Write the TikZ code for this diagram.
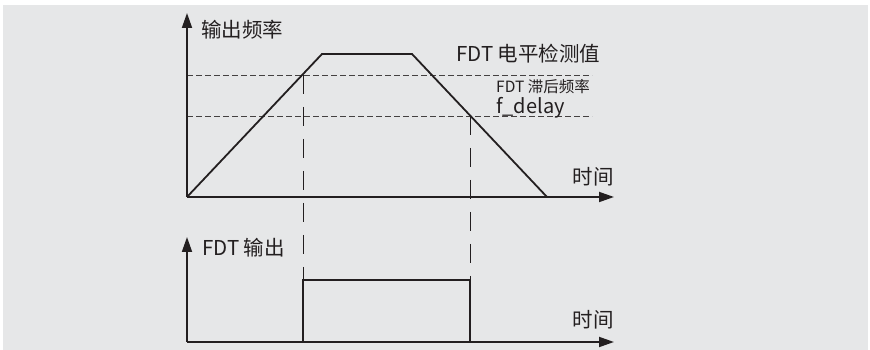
\documentclass[tikz,border=0pt]{standalone}
\usepackage{fontspec}
\setmainfont{Noto Sans CJK SC}
\usetikzlibrary{arrows.meta}
\definecolor{ink}{HTML}{231F20}
\definecolor{paper}{HTML}{E6E7E8}

\begin{document}
\begin{tikzpicture}[
  x=1pt, y=1pt,
  >={Triangle[length=15pt, width=10pt]},
  axis/.style={->, line width=1.8pt, draw=ink},
  curve/.style={line width=1.8pt, draw=ink},
  lvl/.style={draw=ink!85, line width=0.8pt, dash pattern=on 6pt off 3pt},
  guide/.style={draw=ink, line width=0.9pt, dash pattern=on 19pt off 13pt},
  lbl/.style={text=ink, inner sep=0pt, font=\fontsize{20.5}{24}\selectfont},
  sml/.style={lbl, font=\fontsize{15.5}{18}\selectfont},
]
  \useasboundingbox (0,0) rectangle (870,350);
  \fill[paper] (3,0) rectangle (868,345);

  % frequency chart
  \coordinate (o1)   at (187,153);
  \coordinate (ytop) at (187,337);
  \coordinate (xend) at (614,153);
  \coordinate (hi1)  at (322,296);
  \coordinate (hi2)  at (412,296);
  \coordinate (stop) at (547,153);
  \coordinate (lv1a) at (187,275);
  \coordinate (lv1b) at (592,275);
  \coordinate (lv2a) at (187,234);
  \coordinate (lv2b) at (592,234);
  \coordinate (up)   at (303,275);
  \coordinate (dn)   at (470,234);

  \draw[lvl] (lv1a) -- (lv1b);
  \draw[lvl] (lv2a) -- (lv2b);
  \draw[axis] (o1) -- (ytop);
  \draw[axis] (o1) -- (xend);
  \draw[curve] (o1) -- (hi1) -- (hi2) -- (stop);

  \node[lbl, anchor=west] (fout) at (201,320) {输出频率};
  \node[lbl, anchor=west] (fdtlv) at (456,296) {FDT 电平检测值};
  \node[sml, anchor=west] (fdthy) at (496,263) {FDT 滞后频率};
  \node[lbl, anchor=base west, font=\fontsize{20}{24}\selectfont] (fdel) at (496,236) {f\_delay};
  \node[lbl, anchor=east] (t1) at (614,173) {时间};

  % output chart
  \coordinate (o2)    at (187,8);
  \coordinate (ytop2) at (187,113);
  \coordinate (xend2) at (614,8);
  \coordinate (pu)    at (303,70);
  \coordinate (pd)    at (470,70);

  \draw[guide] (up) -- (pu);
  \draw[guide] (dn) -- (pd);
  \draw[axis] (o2) -- (ytop2);
  \draw[axis] (o2) -- (xend2);
  \draw[curve] (pu |- o2) -- (pu) -- (pd) -- (pd |- o2);

  \node[lbl, anchor=west] (dout) at (202,102) {FDT 输出};
  \node[lbl, anchor=east] (t2) at (614,30) {时间};
\end{tikzpicture}
\end{document}
